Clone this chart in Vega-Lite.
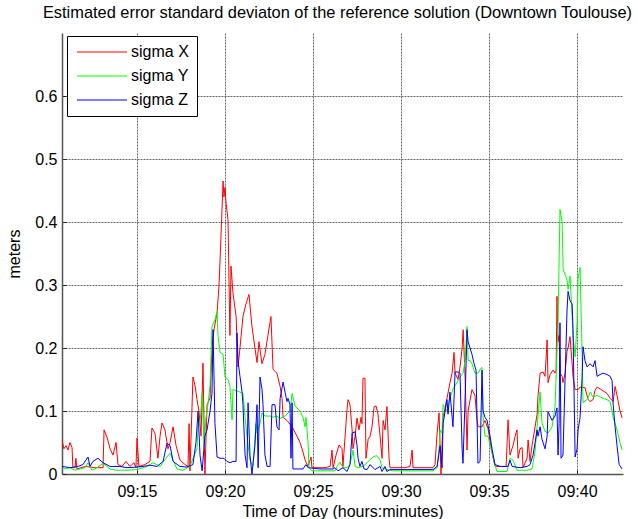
{
  "$schema": "https://vega.github.io/schema/vega-lite/v6.json",
  "autosize": {"type": "none"},
  "padding": {"left": 62, "top": 33, "right": 15, "bottom": 45},
  "width": 561,
  "height": 441,
  "background": "white",
  "config": {
    "font": "Liberation Sans",
    "view": {"stroke": null},
    "axis": {
      "labelFont": "Liberation Sans", "titleFont": "Liberation Sans",
      "labelFontSize": 16, "titleFontSize": 16, "titleFontWeight": "normal",
      "labelColor": "#000", "titleColor": "#000",
      "domainColor": "#555", "domainWidth": 1.5,
      "tickColor": "#222", "tickSize": -4,
      "gridColor": "#666", "gridDash": [2, 1], "gridOpacity": 1, "gridWidth": 1
    }
  },
  "title": {
    "text": "Estimated error standard deviaton of the reference solution (Downtown Toulouse)",
    "font": "Liberation Sans", "fontSize": 16.4, "fontWeight": "normal", "color": "#000",
    "anchor": "middle", "offset": 12, "dx": -5
  },
  "data": {"values": [
{"s":"sigma X","t":10.74,"v":0.054},{"s":"sigma X","t":10.85,"v":0.040},{"s":"sigma X","t":10.97,"v":0.045},{"s":"sigma X","t":11.08,"v":0.038},{"s":"sigma X","t":11.19,"v":0.050},{"s":"sigma X","t":11.31,"v":0.042},{"s":"sigma X","t":11.36,"v":0.010},{"s":"sigma X","t":11.48,"v":0.010},{"s":"sigma X","t":11.53,"v":0.025},{"s":"sigma X","t":11.59,"v":0.008},{"s":"sigma X","t":12.05,"v":0.012},{"s":"sigma X","t":12.61,"v":0.010},{"s":"sigma X","t":13.07,"v":0.010},{"s":"sigma X","t":13.13,"v":0.070},{"s":"sigma X","t":13.30,"v":0.058},{"s":"sigma X","t":13.47,"v":0.040},{"s":"sigma X","t":13.64,"v":0.030},{"s":"sigma X","t":13.81,"v":0.050},{"s":"sigma X","t":13.92,"v":0.015},{"s":"sigma X","t":14.15,"v":0.012},{"s":"sigma X","t":14.38,"v":0.020},{"s":"sigma X","t":14.60,"v":0.012},{"s":"sigma X","t":14.83,"v":0.018},{"s":"sigma X","t":14.94,"v":0.010},{"s":"sigma X","t":15.00,"v":0.057},{"s":"sigma X","t":15.11,"v":0.012},{"s":"sigma X","t":15.45,"v":0.015},{"s":"sigma X","t":15.74,"v":0.020},{"s":"sigma X","t":15.85,"v":0.073},{"s":"sigma X","t":16.02,"v":0.065},{"s":"sigma X","t":16.19,"v":0.025},{"s":"sigma X","t":16.31,"v":0.060},{"s":"sigma X","t":16.42,"v":0.081},{"s":"sigma X","t":16.59,"v":0.070},{"s":"sigma X","t":16.76,"v":0.040},{"s":"sigma X","t":16.88,"v":0.050},{"s":"sigma X","t":17.05,"v":0.075},{"s":"sigma X","t":17.22,"v":0.045},{"s":"sigma X","t":17.44,"v":0.022},{"s":"sigma X","t":17.73,"v":0.015},{"s":"sigma X","t":17.90,"v":0.012},{"s":"sigma X","t":17.96,"v":0.080},{"s":"sigma X","t":18.01,"v":0.005},{"s":"sigma X","t":18.18,"v":0.154},{"s":"sigma X","t":18.30,"v":0.140},{"s":"sigma X","t":18.41,"v":0.118},{"s":"sigma X","t":18.52,"v":0.100},{"s":"sigma X","t":18.64,"v":0.060},{"s":"sigma X","t":18.75,"v":0.176},{"s":"sigma X","t":18.86,"v":0.000},{"s":"sigma X","t":18.98,"v":0.110},{"s":"sigma X","t":19.15,"v":0.120},{"s":"sigma X","t":19.26,"v":0.200},{"s":"sigma X","t":19.38,"v":0.230},{"s":"sigma X","t":19.55,"v":0.256},{"s":"sigma X","t":19.66,"v":0.300},{"s":"sigma X","t":19.72,"v":0.340},{"s":"sigma X","t":19.83,"v":0.420},{"s":"sigma X","t":19.89,"v":0.465},{"s":"sigma X","t":19.94,"v":0.440},{"s":"sigma X","t":20.00,"v":0.455},{"s":"sigma X","t":20.06,"v":0.430},{"s":"sigma X","t":20.17,"v":0.404},{"s":"sigma X","t":20.28,"v":0.220},{"s":"sigma X","t":20.34,"v":0.330},{"s":"sigma X","t":20.45,"v":0.288},{"s":"sigma X","t":20.63,"v":0.250},{"s":"sigma X","t":20.74,"v":0.170},{"s":"sigma X","t":20.85,"v":0.200},{"s":"sigma X","t":21.02,"v":0.250},{"s":"sigma X","t":21.19,"v":0.270},{"s":"sigma X","t":21.36,"v":0.285},{"s":"sigma X","t":21.53,"v":0.235},{"s":"sigma X","t":21.70,"v":0.200},{"s":"sigma X","t":21.82,"v":0.177},{"s":"sigma X","t":21.93,"v":0.210},{"s":"sigma X","t":22.10,"v":0.175},{"s":"sigma X","t":22.27,"v":0.190},{"s":"sigma X","t":22.44,"v":0.220},{"s":"sigma X","t":22.61,"v":0.250},{"s":"sigma X","t":22.73,"v":0.166},{"s":"sigma X","t":22.95,"v":0.160},{"s":"sigma X","t":23.13,"v":0.139},{"s":"sigma X","t":23.24,"v":0.120},{"s":"sigma X","t":23.30,"v":0.090},{"s":"sigma X","t":23.52,"v":0.085},{"s":"sigma X","t":23.81,"v":0.075},{"s":"sigma X","t":24.09,"v":0.060},{"s":"sigma X","t":24.26,"v":0.050},{"s":"sigma X","t":24.43,"v":0.035},{"s":"sigma X","t":24.55,"v":0.022},{"s":"sigma X","t":24.72,"v":0.012},{"s":"sigma X","t":24.89,"v":0.027},{"s":"sigma X","t":24.94,"v":0.010},{"s":"sigma X","t":25.68,"v":0.010},{"s":"sigma X","t":25.97,"v":0.012},{"s":"sigma X","t":26.08,"v":0.038},{"s":"sigma X","t":26.14,"v":0.010},{"s":"sigma X","t":26.31,"v":0.030},{"s":"sigma X","t":26.48,"v":0.046},{"s":"sigma X","t":26.65,"v":0.040},{"s":"sigma X","t":26.70,"v":0.012},{"s":"sigma X","t":26.93,"v":0.102},{"s":"sigma X","t":26.99,"v":0.118},{"s":"sigma X","t":27.10,"v":0.110},{"s":"sigma X","t":27.22,"v":0.070},{"s":"sigma X","t":27.27,"v":0.040},{"s":"sigma X","t":27.39,"v":0.060},{"s":"sigma X","t":27.50,"v":0.089},{"s":"sigma X","t":27.61,"v":0.070},{"s":"sigma X","t":27.73,"v":0.090},{"s":"sigma X","t":27.78,"v":0.080},{"s":"sigma X","t":27.84,"v":0.152},{"s":"sigma X","t":27.95,"v":0.152},{"s":"sigma X","t":28.01,"v":0.025},{"s":"sigma X","t":28.13,"v":0.055},{"s":"sigma X","t":28.24,"v":0.060},{"s":"sigma X","t":28.35,"v":0.075},{"s":"sigma X","t":28.47,"v":0.107},{"s":"sigma X","t":28.58,"v":0.108},{"s":"sigma X","t":28.69,"v":0.095},{"s":"sigma X","t":28.81,"v":0.060},{"s":"sigma X","t":28.92,"v":0.025},{"s":"sigma X","t":28.98,"v":0.085},{"s":"sigma X","t":29.09,"v":0.070},{"s":"sigma X","t":29.20,"v":0.107},{"s":"sigma X","t":29.32,"v":0.025},{"s":"sigma X","t":29.37,"v":0.010},{"s":"sigma X","t":30.23,"v":0.010},{"s":"sigma X","t":30.51,"v":0.012},{"s":"sigma X","t":30.63,"v":0.038},{"s":"sigma X","t":30.68,"v":0.010},{"s":"sigma X","t":31.82,"v":0.010},{"s":"sigma X","t":31.93,"v":0.015},{"s":"sigma X","t":32.05,"v":0.065},{"s":"sigma X","t":32.16,"v":0.097},{"s":"sigma X","t":32.27,"v":0.000},{"s":"sigma X","t":32.39,"v":0.090},{"s":"sigma X","t":32.61,"v":0.120},{"s":"sigma X","t":32.78,"v":0.145},{"s":"sigma X","t":32.90,"v":0.160},{"s":"sigma X","t":33.01,"v":0.193},{"s":"sigma X","t":33.07,"v":0.160},{"s":"sigma X","t":33.24,"v":0.150},{"s":"sigma X","t":33.35,"v":0.170},{"s":"sigma X","t":33.47,"v":0.200},{"s":"sigma X","t":33.53,"v":0.229},{"s":"sigma X","t":33.64,"v":0.154},{"s":"sigma X","t":33.75,"v":0.038},{"s":"sigma X","t":33.81,"v":0.100},{"s":"sigma X","t":34.03,"v":0.134},{"s":"sigma X","t":34.20,"v":0.125},{"s":"sigma X","t":34.32,"v":0.085},{"s":"sigma X","t":34.38,"v":0.075},{"s":"sigma X","t":34.60,"v":0.075},{"s":"sigma X","t":34.77,"v":0.085},{"s":"sigma X","t":34.94,"v":0.072},{"s":"sigma X","t":35.17,"v":0.034},{"s":"sigma X","t":35.34,"v":0.012},{"s":"sigma X","t":35.63,"v":0.012},{"s":"sigma X","t":35.97,"v":0.012},{"s":"sigma X","t":36.08,"v":0.086},{"s":"sigma X","t":36.19,"v":0.030},{"s":"sigma X","t":36.36,"v":0.045},{"s":"sigma X","t":36.48,"v":0.060},{"s":"sigma X","t":36.59,"v":0.070},{"s":"sigma X","t":36.65,"v":0.025},{"s":"sigma X","t":36.76,"v":0.040},{"s":"sigma X","t":36.88,"v":0.042},{"s":"sigma X","t":36.93,"v":0.010},{"s":"sigma X","t":37.16,"v":0.025},{"s":"sigma X","t":37.22,"v":0.054},{"s":"sigma X","t":37.33,"v":0.020},{"s":"sigma X","t":37.44,"v":0.045},{"s":"sigma X","t":37.56,"v":0.065},{"s":"sigma X","t":37.73,"v":0.095},{"s":"sigma X","t":37.78,"v":0.123},{"s":"sigma X","t":37.90,"v":0.160},{"s":"sigma X","t":38.07,"v":0.162},{"s":"sigma X","t":38.18,"v":0.155},{"s":"sigma X","t":38.30,"v":0.213},{"s":"sigma X","t":38.35,"v":0.145},{"s":"sigma X","t":38.47,"v":0.158},{"s":"sigma X","t":38.64,"v":0.165},{"s":"sigma X","t":38.75,"v":0.160},{"s":"sigma X","t":38.81,"v":0.165},{"s":"sigma X","t":38.86,"v":0.282},{"s":"sigma X","t":38.92,"v":0.210},{"s":"sigma X","t":38.98,"v":0.220},{"s":"sigma X","t":39.03,"v":0.160},{"s":"sigma X","t":39.15,"v":0.155},{"s":"sigma X","t":39.20,"v":0.145},{"s":"sigma X","t":39.32,"v":0.160},{"s":"sigma X","t":39.43,"v":0.195},{"s":"sigma X","t":39.49,"v":0.200},{"s":"sigma X","t":39.60,"v":0.218},{"s":"sigma X","t":39.72,"v":0.175},{"s":"sigma X","t":39.77,"v":0.155},{"s":"sigma X","t":39.89,"v":0.134},{"s":"sigma X","t":40.06,"v":0.134},{"s":"sigma X","t":40.17,"v":0.138},{"s":"sigma X","t":40.45,"v":0.137},{"s":"sigma X","t":40.63,"v":0.118},{"s":"sigma X","t":40.74,"v":0.115},{"s":"sigma X","t":40.91,"v":0.118},{"s":"sigma X","t":41.02,"v":0.133},{"s":"sigma X","t":41.14,"v":0.138},{"s":"sigma X","t":41.31,"v":0.135},{"s":"sigma X","t":41.48,"v":0.132},{"s":"sigma X","t":41.70,"v":0.128},{"s":"sigma X","t":41.88,"v":0.120},{"s":"sigma X","t":42.05,"v":0.115},{"s":"sigma X","t":42.16,"v":0.139},{"s":"sigma X","t":42.27,"v":0.125},{"s":"sigma X","t":42.44,"v":0.100},{"s":"sigma X","t":42.56,"v":0.089},
{"s":"sigma Y","t":10.74,"v":0.012},{"s":"sigma Y","t":10.91,"v":0.008},{"s":"sigma Y","t":11.19,"v":0.010},{"s":"sigma Y","t":11.48,"v":0.006},{"s":"sigma Y","t":12.05,"v":0.010},{"s":"sigma Y","t":12.22,"v":0.018},{"s":"sigma Y","t":12.44,"v":0.006},{"s":"sigma Y","t":12.73,"v":0.010},{"s":"sigma Y","t":13.07,"v":0.017},{"s":"sigma Y","t":13.47,"v":0.008},{"s":"sigma Y","t":13.86,"v":0.006},{"s":"sigma Y","t":14.43,"v":0.006},{"s":"sigma Y","t":15.00,"v":0.007},{"s":"sigma Y","t":15.57,"v":0.012},{"s":"sigma Y","t":15.91,"v":0.018},{"s":"sigma Y","t":16.31,"v":0.012},{"s":"sigma Y","t":16.70,"v":0.027},{"s":"sigma Y","t":16.88,"v":0.033},{"s":"sigma Y","t":17.05,"v":0.022},{"s":"sigma Y","t":17.27,"v":0.008},{"s":"sigma Y","t":17.61,"v":0.006},{"s":"sigma Y","t":18.01,"v":0.012},{"s":"sigma Y","t":18.18,"v":0.025},{"s":"sigma Y","t":18.41,"v":0.040},{"s":"sigma Y","t":18.47,"v":0.075},{"s":"sigma Y","t":18.58,"v":0.080},{"s":"sigma Y","t":18.70,"v":0.128},{"s":"sigma Y","t":18.81,"v":0.040},{"s":"sigma Y","t":18.92,"v":0.090},{"s":"sigma Y","t":19.03,"v":0.110},{"s":"sigma Y","t":19.15,"v":0.140},{"s":"sigma Y","t":19.26,"v":0.234},{"s":"sigma Y","t":19.43,"v":0.245},{"s":"sigma Y","t":19.55,"v":0.258},{"s":"sigma Y","t":19.60,"v":0.220},{"s":"sigma Y","t":19.72,"v":0.193},{"s":"sigma Y","t":19.89,"v":0.190},{"s":"sigma Y","t":20.00,"v":0.154},{"s":"sigma Y","t":20.17,"v":0.150},{"s":"sigma Y","t":20.28,"v":0.140},{"s":"sigma Y","t":20.40,"v":0.086},{"s":"sigma Y","t":20.45,"v":0.134},{"s":"sigma Y","t":20.68,"v":0.132},{"s":"sigma Y","t":20.85,"v":0.130},{"s":"sigma Y","t":21.02,"v":0.128},{"s":"sigma Y","t":21.14,"v":0.090},{"s":"sigma Y","t":21.25,"v":0.060},{"s":"sigma Y","t":21.42,"v":0.022},{"s":"sigma Y","t":21.59,"v":0.012},{"s":"sigma Y","t":21.76,"v":0.080},{"s":"sigma Y","t":21.82,"v":0.065},{"s":"sigma Y","t":21.99,"v":0.080},{"s":"sigma Y","t":22.10,"v":0.097},{"s":"sigma Y","t":22.27,"v":0.092},{"s":"sigma Y","t":22.56,"v":0.092},{"s":"sigma Y","t":22.73,"v":0.090},{"s":"sigma Y","t":22.95,"v":0.092},{"s":"sigma Y","t":23.13,"v":0.088},{"s":"sigma Y","t":23.41,"v":0.092},{"s":"sigma Y","t":23.69,"v":0.100},{"s":"sigma Y","t":23.81,"v":0.128},{"s":"sigma Y","t":23.98,"v":0.108},{"s":"sigma Y","t":24.26,"v":0.100},{"s":"sigma Y","t":24.43,"v":0.090},{"s":"sigma Y","t":24.55,"v":0.075},{"s":"sigma Y","t":24.60,"v":0.090},{"s":"sigma Y","t":24.72,"v":0.050},{"s":"sigma Y","t":24.77,"v":0.010},{"s":"sigma Y","t":24.94,"v":0.005},{"s":"sigma Y","t":26.25,"v":0.005},{"s":"sigma Y","t":26.36,"v":0.012},{"s":"sigma Y","t":26.53,"v":0.019},{"s":"sigma Y","t":26.70,"v":0.010},{"s":"sigma Y","t":26.93,"v":0.010},{"s":"sigma Y","t":27.10,"v":0.015},{"s":"sigma Y","t":27.22,"v":0.030},{"s":"sigma Y","t":27.27,"v":0.038},{"s":"sigma Y","t":27.39,"v":0.012},{"s":"sigma Y","t":27.56,"v":0.010},{"s":"sigma Y","t":27.84,"v":0.012},{"s":"sigma Y","t":28.07,"v":0.018},{"s":"sigma Y","t":28.24,"v":0.023},{"s":"sigma Y","t":28.47,"v":0.028},{"s":"sigma Y","t":28.64,"v":0.029},{"s":"sigma Y","t":28.81,"v":0.022},{"s":"sigma Y","t":28.92,"v":0.010},{"s":"sigma Y","t":29.20,"v":0.007},{"s":"sigma Y","t":29.55,"v":0.005},{"s":"sigma Y","t":31.82,"v":0.005},{"s":"sigma Y","t":32.05,"v":0.010},{"s":"sigma Y","t":32.16,"v":0.040},{"s":"sigma Y","t":32.22,"v":0.070},{"s":"sigma Y","t":32.33,"v":0.065},{"s":"sigma Y","t":32.39,"v":0.110},{"s":"sigma Y","t":32.61,"v":0.100},{"s":"sigma Y","t":32.78,"v":0.120},{"s":"sigma Y","t":32.95,"v":0.135},{"s":"sigma Y","t":33.18,"v":0.145},{"s":"sigma Y","t":33.35,"v":0.154},{"s":"sigma Y","t":33.52,"v":0.160},{"s":"sigma Y","t":33.64,"v":0.180},{"s":"sigma Y","t":33.75,"v":0.234},{"s":"sigma Y","t":33.81,"v":0.180},{"s":"sigma Y","t":33.92,"v":0.180},{"s":"sigma Y","t":34.03,"v":0.175},{"s":"sigma Y","t":34.20,"v":0.160},{"s":"sigma Y","t":34.37,"v":0.160},{"s":"sigma Y","t":34.54,"v":0.168},{"s":"sigma Y","t":34.60,"v":0.169},{"s":"sigma Y","t":34.66,"v":0.090},{"s":"sigma Y","t":34.77,"v":0.060},{"s":"sigma Y","t":34.94,"v":0.060},{"s":"sigma Y","t":35.17,"v":0.034},{"s":"sigma Y","t":35.28,"v":0.020},{"s":"sigma Y","t":35.45,"v":0.004},{"s":"sigma Y","t":36.02,"v":0.004},{"s":"sigma Y","t":36.19,"v":0.025},{"s":"sigma Y","t":36.36,"v":0.022},{"s":"sigma Y","t":36.59,"v":0.006},{"s":"sigma Y","t":37.16,"v":0.006},{"s":"sigma Y","t":37.44,"v":0.008},{"s":"sigma Y","t":37.61,"v":0.035},{"s":"sigma Y","t":37.73,"v":0.075},{"s":"sigma Y","t":37.90,"v":0.130},{"s":"sigma Y","t":38.01,"v":0.080},{"s":"sigma Y","t":38.18,"v":0.068},{"s":"sigma Y","t":38.35,"v":0.065},{"s":"sigma Y","t":38.58,"v":0.075},{"s":"sigma Y","t":38.75,"v":0.107},{"s":"sigma Y","t":38.92,"v":0.240},{"s":"sigma Y","t":39.03,"v":0.420},{"s":"sigma Y","t":39.15,"v":0.400},{"s":"sigma Y","t":39.21,"v":0.325},{"s":"sigma Y","t":39.43,"v":0.308},{"s":"sigma Y","t":39.49,"v":0.293},{"s":"sigma Y","t":39.60,"v":0.314},{"s":"sigma Y","t":39.72,"v":0.250},{"s":"sigma Y","t":39.77,"v":0.220},{"s":"sigma Y","t":39.89,"v":0.186},{"s":"sigma Y","t":40.00,"v":0.240},{"s":"sigma Y","t":40.06,"v":0.310},{"s":"sigma Y","t":40.17,"v":0.328},{"s":"sigma Y","t":40.28,"v":0.200},{"s":"sigma Y","t":40.34,"v":0.113},{"s":"sigma Y","t":40.57,"v":0.118},{"s":"sigma Y","t":40.74,"v":0.130},{"s":"sigma Y","t":40.91,"v":0.122},{"s":"sigma Y","t":41.14,"v":0.125},{"s":"sigma Y","t":41.31,"v":0.122},{"s":"sigma Y","t":41.48,"v":0.120},{"s":"sigma Y","t":41.70,"v":0.118},{"s":"sigma Y","t":41.88,"v":0.115},{"s":"sigma Y","t":42.05,"v":0.090},{"s":"sigma Y","t":42.27,"v":0.070},{"s":"sigma Y","t":42.44,"v":0.050},{"s":"sigma Y","t":42.56,"v":0.038},
{"s":"sigma Z","t":10.74,"v":0.012},{"s":"sigma Z","t":11.19,"v":0.010},{"s":"sigma Z","t":11.64,"v":0.012},{"s":"sigma Z","t":11.93,"v":0.015},{"s":"sigma Z","t":12.22,"v":0.027},{"s":"sigma Z","t":12.33,"v":0.012},{"s":"sigma Z","t":12.50,"v":0.020},{"s":"sigma Z","t":12.78,"v":0.025},{"s":"sigma Z","t":13.07,"v":0.018},{"s":"sigma Z","t":13.47,"v":0.012},{"s":"sigma Z","t":14.03,"v":0.012},{"s":"sigma Z","t":14.43,"v":0.010},{"s":"sigma Z","t":15.00,"v":0.011},{"s":"sigma Z","t":15.34,"v":0.012},{"s":"sigma Z","t":15.74,"v":0.014},{"s":"sigma Z","t":16.14,"v":0.012},{"s":"sigma Z","t":16.48,"v":0.020},{"s":"sigma Z","t":16.71,"v":0.049},{"s":"sigma Z","t":16.88,"v":0.045},{"s":"sigma Z","t":17.05,"v":0.020},{"s":"sigma Z","t":17.44,"v":0.012},{"s":"sigma Z","t":17.84,"v":0.011},{"s":"sigma Z","t":18.18,"v":0.015},{"s":"sigma Z","t":18.35,"v":0.050},{"s":"sigma Z","t":18.47,"v":0.100},{"s":"sigma Z","t":18.58,"v":0.030},{"s":"sigma Z","t":18.70,"v":0.005},{"s":"sigma Z","t":18.86,"v":0.060},{"s":"sigma Z","t":18.98,"v":0.070},{"s":"sigma Z","t":19.15,"v":0.100},{"s":"sigma Z","t":19.26,"v":0.128},{"s":"sigma Z","t":19.32,"v":0.229},{"s":"sigma Z","t":19.43,"v":0.080},{"s":"sigma Z","t":19.55,"v":0.027},{"s":"sigma Z","t":19.72,"v":0.025},{"s":"sigma Z","t":19.94,"v":0.025},{"s":"sigma Z","t":20.11,"v":0.020},{"s":"sigma Z","t":20.28,"v":0.018},{"s":"sigma Z","t":20.45,"v":0.020},{"s":"sigma Z","t":20.63,"v":0.020},{"s":"sigma Z","t":20.68,"v":0.224},{"s":"sigma Z","t":20.74,"v":0.180},{"s":"sigma Z","t":20.85,"v":0.155},{"s":"sigma Z","t":20.97,"v":0.130},{"s":"sigma Z","t":21.02,"v":0.110},{"s":"sigma Z","t":21.14,"v":0.030},{"s":"sigma Z","t":21.25,"v":0.010},{"s":"sigma Z","t":21.31,"v":0.113},{"s":"sigma Z","t":21.42,"v":0.030},{"s":"sigma Z","t":21.53,"v":0.000},{"s":"sigma Z","t":21.70,"v":0.045},{"s":"sigma Z","t":21.82,"v":0.110},{"s":"sigma Z","t":21.88,"v":0.010},{"s":"sigma Z","t":21.99,"v":0.154},{"s":"sigma Z","t":22.10,"v":0.135},{"s":"sigma Z","t":22.16,"v":0.110},{"s":"sigma Z","t":22.27,"v":0.030},{"s":"sigma Z","t":22.39,"v":0.012},{"s":"sigma Z","t":22.56,"v":0.012},{"s":"sigma Z","t":22.67,"v":0.110},{"s":"sigma Z","t":22.84,"v":0.110},{"s":"sigma Z","t":22.95,"v":0.075},{"s":"sigma Z","t":23.07,"v":0.070},{"s":"sigma Z","t":23.13,"v":0.120},{"s":"sigma Z","t":23.30,"v":0.146},{"s":"sigma Z","t":23.41,"v":0.130},{"s":"sigma Z","t":23.52,"v":0.115},{"s":"sigma Z","t":23.58,"v":0.120},{"s":"sigma Z","t":23.69,"v":0.110},{"s":"sigma Z","t":23.75,"v":0.025},{"s":"sigma Z","t":23.81,"v":0.113},{"s":"sigma Z","t":23.86,"v":0.008},{"s":"sigma Z","t":24.15,"v":0.008},{"s":"sigma Z","t":24.43,"v":0.008},{"s":"sigma Z","t":24.60,"v":0.015},{"s":"sigma Z","t":24.72,"v":0.010},{"s":"sigma Z","t":25.40,"v":0.008},{"s":"sigma Z","t":26.14,"v":0.008},{"s":"sigma Z","t":26.25,"v":0.010},{"s":"sigma Z","t":26.42,"v":0.005},{"s":"sigma Z","t":26.70,"v":0.010},{"s":"sigma Z","t":26.93,"v":0.004},{"s":"sigma Z","t":27.10,"v":0.015},{"s":"sigma Z","t":27.22,"v":0.065},{"s":"sigma Z","t":27.39,"v":0.067},{"s":"sigma Z","t":27.50,"v":0.045},{"s":"sigma Z","t":27.56,"v":0.025},{"s":"sigma Z","t":27.67,"v":0.012},{"s":"sigma Z","t":27.78,"v":0.020},{"s":"sigma Z","t":27.90,"v":0.008},{"s":"sigma Z","t":28.07,"v":0.007},{"s":"sigma Z","t":28.24,"v":0.015},{"s":"sigma Z","t":28.52,"v":0.007},{"s":"sigma Z","t":28.81,"v":0.012},{"s":"sigma Z","t":28.92,"v":0.004},{"s":"sigma Z","t":29.09,"v":0.012},{"s":"sigma Z","t":29.20,"v":0.004},{"s":"sigma Z","t":29.37,"v":0.007},{"s":"sigma Z","t":31.82,"v":0.007},{"s":"sigma Z","t":32.05,"v":0.012},{"s":"sigma Z","t":32.22,"v":0.045},{"s":"sigma Z","t":32.33,"v":0.010},{"s":"sigma Z","t":32.39,"v":0.080},{"s":"sigma Z","t":32.61,"v":0.118},{"s":"sigma Z","t":32.67,"v":0.095},{"s":"sigma Z","t":32.78,"v":0.130},{"s":"sigma Z","t":32.95,"v":0.075},{"s":"sigma Z","t":33.07,"v":0.162},{"s":"sigma Z","t":33.24,"v":0.162},{"s":"sigma Z","t":33.35,"v":0.160},{"s":"sigma Z","t":33.47,"v":0.040},{"s":"sigma Z","t":33.52,"v":0.017},{"s":"sigma Z","t":33.64,"v":0.120},{"s":"sigma Z","t":33.75,"v":0.229},{"s":"sigma Z","t":33.81,"v":0.210},{"s":"sigma Z","t":33.92,"v":0.200},{"s":"sigma Z","t":34.03,"v":0.190},{"s":"sigma Z","t":34.15,"v":0.175},{"s":"sigma Z","t":34.26,"v":0.165},{"s":"sigma Z","t":34.37,"v":0.017},{"s":"sigma Z","t":34.49,"v":0.020},{"s":"sigma Z","t":34.60,"v":0.165},{"s":"sigma Z","t":34.66,"v":0.100},{"s":"sigma Z","t":34.77,"v":0.090},{"s":"sigma Z","t":34.89,"v":0.085},{"s":"sigma Z","t":35.06,"v":0.060},{"s":"sigma Z","t":35.17,"v":0.040},{"s":"sigma Z","t":35.34,"v":0.015},{"s":"sigma Z","t":35.63,"v":0.012},{"s":"sigma Z","t":36.08,"v":0.012},{"s":"sigma Z","t":36.19,"v":0.022},{"s":"sigma Z","t":36.31,"v":0.012},{"s":"sigma Z","t":36.76,"v":0.010},{"s":"sigma Z","t":37.16,"v":0.012},{"s":"sigma Z","t":37.33,"v":0.015},{"s":"sigma Z","t":37.50,"v":0.030},{"s":"sigma Z","t":37.61,"v":0.049},{"s":"sigma Z","t":37.73,"v":0.070},{"s":"sigma Z","t":37.78,"v":0.060},{"s":"sigma Z","t":37.90,"v":0.075},{"s":"sigma Z","t":38.01,"v":0.055},{"s":"sigma Z","t":38.18,"v":0.040},{"s":"sigma Z","t":38.30,"v":0.060},{"s":"sigma Z","t":38.35,"v":0.099},{"s":"sigma Z","t":38.58,"v":0.085},{"s":"sigma Z","t":38.75,"v":0.092},{"s":"sigma Z","t":38.86,"v":0.105},{"s":"sigma Z","t":38.92,"v":0.030},{"s":"sigma Z","t":38.98,"v":0.080},{"s":"sigma Z","t":39.03,"v":0.240},{"s":"sigma Z","t":39.09,"v":0.025},{"s":"sigma Z","t":39.20,"v":0.030},{"s":"sigma Z","t":39.32,"v":0.150},{"s":"sigma Z","t":39.43,"v":0.260},{"s":"sigma Z","t":39.49,"v":0.290},{"s":"sigma Z","t":39.60,"v":0.275},{"s":"sigma Z","t":39.72,"v":0.270},{"s":"sigma Z","t":39.77,"v":0.230},{"s":"sigma Z","t":39.89,"v":0.027},{"s":"sigma Z","t":40.00,"v":0.040},{"s":"sigma Z","t":40.06,"v":0.070},{"s":"sigma Z","t":40.17,"v":0.090},{"s":"sigma Z","t":40.28,"v":0.150},{"s":"sigma Z","t":40.34,"v":0.202},{"s":"sigma Z","t":40.45,"v":0.180},{"s":"sigma Z","t":40.57,"v":0.170},{"s":"sigma Z","t":40.74,"v":0.175},{"s":"sigma Z","t":40.91,"v":0.170},{"s":"sigma Z","t":41.02,"v":0.180},{"s":"sigma Z","t":41.14,"v":0.155},{"s":"sigma Z","t":41.31,"v":0.158},{"s":"sigma Z","t":41.48,"v":0.160},{"s":"sigma Z","t":41.70,"v":0.158},{"s":"sigma Z","t":41.88,"v":0.155},{"s":"sigma Z","t":41.99,"v":0.148},{"s":"sigma Z","t":42.05,"v":0.110},{"s":"sigma Z","t":42.16,"v":0.075},{"s":"sigma Z","t":42.27,"v":0.045},{"s":"sigma Z","t":42.39,"v":0.015},{"s":"sigma Z","t":42.56,"v":0.008}
  ]},
  "mark": {"type": "line", "strokeWidth": 1, "clip": true},
  "encoding": {
    "x": {
      "field": "t", "type": "quantitative",
      "scale": {"domain": [10.74, 42.61], "nice": false, "zero": false},
      "axis": {
        "title": "Time of Day (hours:minutes)",
        "values": [15, 20, 25, 30, 35, 40],
        "labelExpr": "'09:' + datum.value",
        "labelPadding": 13, "titlePadding": 4
      }
    },
    "y": {
      "field": "v", "type": "quantitative",
      "scale": {"domain": [0, 0.7], "nice": false},
      "axis": {
        "title": "meters",
        "values": [0, 0.1, 0.2, 0.3, 0.4, 0.5, 0.6],
        "format": "~g",
        "labelPadding": 9, "titlePadding": 12
      }
    },
    "color": {
      "field": "s", "type": "nominal",
      "scale": {"domain": ["sigma X", "sigma Y", "sigma Z"], "range": ["#ff0000", "#00ff00", "#0000ff"]},
      "legend": {
        "title": null, "orient": "none", "legendX": 5, "legendY": 3,
        "fillColor": "white", "strokeColor": "#000", "padding": 8,
        "symbolType": "M-5,0H5", "symbolSize": 100, "symbolStrokeWidth": 1, "symbolOffset": 19,
        "labelOffset": 21, "labelFontSize": 16, "labelFont": "Liberation Sans", "labelColor": "#000",
        "rowPadding": 8
      }
    }
  }
}
